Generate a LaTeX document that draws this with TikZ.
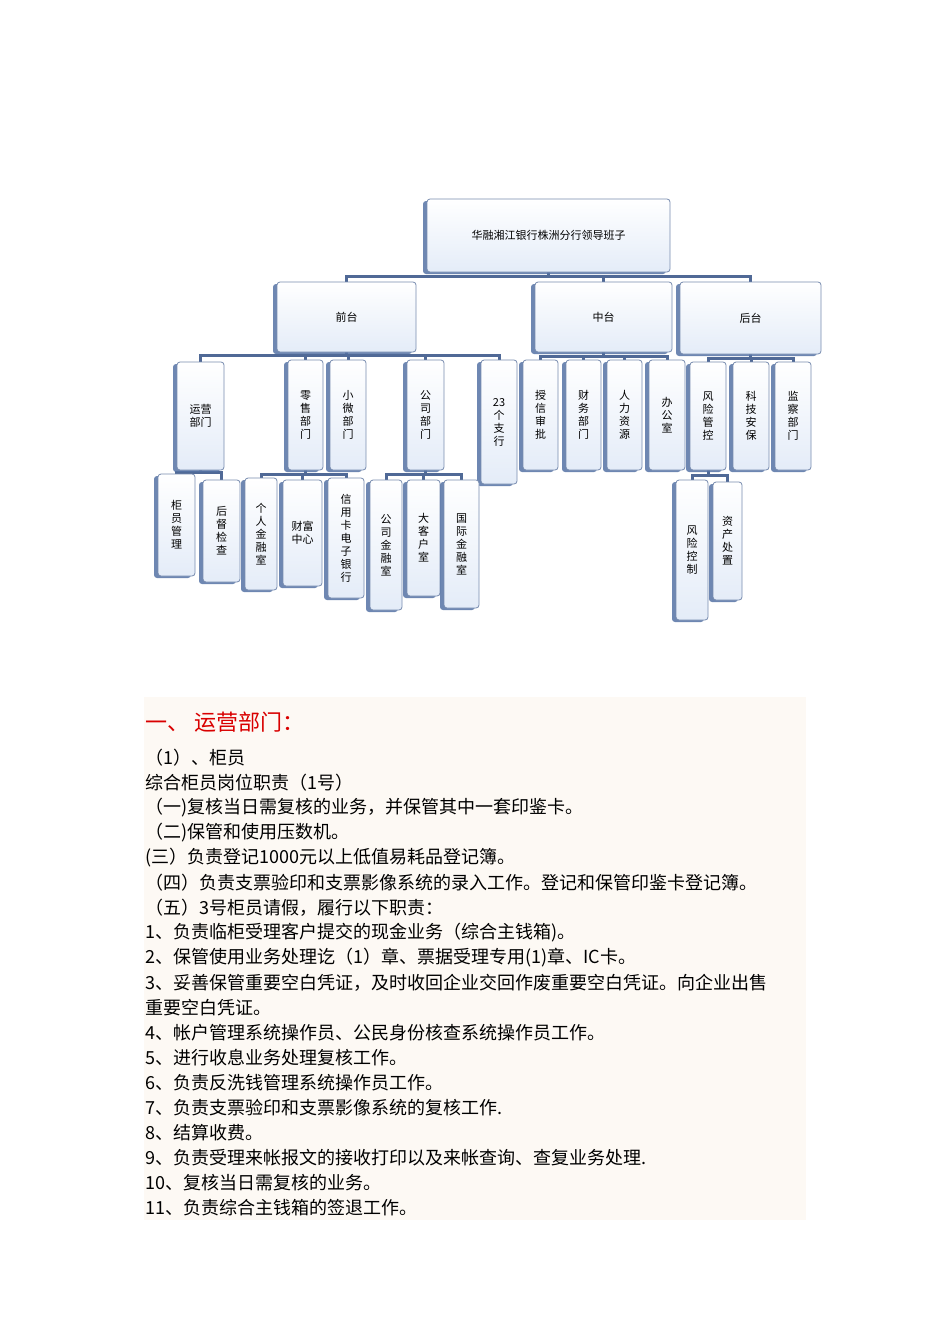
\documentclass[tikz,border=0pt]{standalone}
\usepackage{fontspec}
\setmainfont{Noto Sans CJK SC}
\usetikzlibrary{shadows,backgrounds}
\definecolor{bord}{RGB}{120,140,175}
\definecolor{shad}{RGB}{85,115,165}
\definecolor{lnk}{RGB}{80,105,150}
\definecolor{bfill}{RGB}{228,236,248}
\definecolor{cream}{RGB}{253,249,244}
\newcommand{\bx}[6]{\node[bx,minimum width={#4-#2},minimum height={#5-#3}] (#1) at ({(#2+#4)/2},{-(#3+#5)/2}) {#6};}
\tikzset{
 bx/.style={draw=bord,line width=0.8pt,rounded corners=3pt,top color=white,bottom color=bfill,
  align=center,inner sep=0pt,font=\fontsize{11}{13}\selectfont,
  drop shadow={shadow xshift=-4pt,shadow yshift=-2pt,fill=shad,opacity=0.85}},
 conn/.style={draw=lnk,line width=3pt},
 txt/.style={anchor=west,inner sep=0pt,font=\fontsize{18}{20}\selectfont},
}
\begin{document}
\begin{tikzpicture}[x=1pt,y=1pt]
\useasboundingbox (0,0) rectangle (950,-1344);
\bx{top}{427}{199}{670}{272}{华融湘江银行株洲分行领导班子}
\bx{qian}{277}{282}{416}{352}{前台}
\bx{zhong}{535}{282}{672}{352}{中台}
\bx{hou}{680}{282}{821}{354}{后台}
\bx{yy}{177}{362}{224}{470}{运营\\部门}
\bx{ls}{288}{360}{323}{470}{零\\售\\部\\门}
\bx{xw}{330}{360}{366}{470}{小\\微\\部\\门}
\bx{gs}{407}{360}{444}{470}{公\\司\\部\\门}
\bx{zh}{481}{360}{517}{484}{23\\个\\支\\行}
\bx{sx}{523}{360}{558}{470}{授\\信\\审\\批}
\bx{cw}{566}{360}{601}{470}{财\\务\\部\\门}
\bx{rl}{607}{360}{642}{470}{人\\力\\资\\源}
\bx{bg}{649}{360}{685}{470}{办\\公\\室}
\bx{fx}{690}{362}{726}{470}{风\\险\\管\\控}
\bx{kj}{733}{362}{769}{470}{科\\技\\安\\保}
\bx{jc}{775}{362}{811}{470}{监\\察\\部\\门}
\bx{gy}{158}{474}{195}{576}{柜\\员\\管\\理}
\bx{hd}{203}{480}{240}{582}{后\\督\\检\\查}
\bx{gr}{245}{478}{277}{590}{个\\人\\金\\融\\室}
\bx{cf}{283}{480}{322}{586}{财富\\中心}
\bx{xy}{328}{478}{364}{598}{信\\用\\卡\\电\\子\\银\\行}
\bx{gj}{370}{480}{402}{610}{公\\司\\金\\融\\室}
\bx{dk}{407}{480}{440}{596}{大\\客\\户\\室}
\bx{gjr}{444}{480}{479}{608}{国\\际\\金\\融\\室}
\bx{fk}{676}{480}{708}{620}{风\\险\\控\\制}
\bx{zc}{713}{482}{742}{600}{资\\产\\处\\置}
\begin{scope}[on background layer]
\fill[white] (0,0) rectangle (950,-1344);
\foreach \c in {qian,zhong,hou}{\draw[conn] (top.south) -- ++(0,-4) -| (\c.north);}
\foreach \c in {yy,ls,xw,gs,zh}{\draw[conn] (qian.south) -- ++(0,-3) -| (\c.north);}
\foreach \c in {sx,cw,rl,bg}{\draw[conn] (zhong.south) -- ++(0,-4) -| (\c.north);}
\foreach \c in {fx,kj,jc}{\draw[conn] (hou.south) -- ++(0,-4) -| (\c.north);}
\foreach \c in {gy,hd}{\draw[conn] (yy.south) -- ++(0,-2) -| (\c.north);}
\foreach \c in {gr,cf,xy}{\draw[conn] (ls.south) -- ++(0,-4) -| (\c.north);}
\foreach \c in {gj,dk,gjr}{\draw[conn] (gs.south) -- ++(0,-4) -| (\c.north);}
\foreach \c in {fk,zc}{\draw[conn] (fx.south) -- ++(0,-5) -| (\c.north);}
\end{scope}
% text block
\fill[cream] (144,-697) rectangle (806,-1220);
\node[txt,text=red!85!black,font=\fontsize{22}{24}\selectfont] (h) at (145,-722) {一、 运营部门：};
\node[txt] (l1) at (145,-758) {（1）、柜员};
\node[txt] (l2) at (145,-783) {综合柜员岗位职责（1号）};
\node[txt] (l3) at (145,-808) {（一)复核当日需复核的业务，并保管其中一套印鉴卡。};
\node[txt] (l4) at (145,-833) {（二)保管和使用压数机。};
\node[txt] (l5) at (145,-858) {(三）负责登记1000元以上低值易耗品登记簿。};
\node[txt] (l6) at (145,-883) {（四）负责支票验印和支票影像系统的录入工作。登记和保管印鉴卡登记簿。};
\node[txt] (l7) at (145,-908) {（五）3号柜员请假，履行以下职责：};
\node[txt] (l8) at (145,-933) {1、负责临柜受理客户提交的现金业务（综合主钱箱)。};
\node[txt] (l9) at (145,-958) {2、保管使用业务处理讫（1）章、票据受理专用(1)章、IC卡。};
\node[txt] (l10) at (145,-983) {3、妥善保管重要空白凭证，及时收回企业交回作废重要空白凭证。向企业出售};
\node[txt] (l11) at (145,-1008) {重要空白凭证。};
\node[txt] (l12) at (145,-1033) {4、帐户管理系统操作员、公民身份核查系统操作员工作。};
\node[txt] (l13) at (145,-1058) {5、进行收息业务处理复核工作。};
\node[txt] (l14) at (145,-1083) {6、负责反洗钱管理系统操作员工作。};
\node[txt] (l15) at (145,-1108) {7、负责支票验印和支票影像系统的复核工作.};
\node[txt] (l16) at (145,-1133) {8、结算收费。};
\node[txt] (l17) at (145,-1158) {9、负责受理来帐报文的接收打印以及来帐查询、查复业务处理.};
\node[txt] (l18) at (145,-1183) {10、复核当日需复核的业务。};
\node[txt] (l19) at (145,-1208) {11、负责综合主钱箱的签退工作。};
\end{tikzpicture}
\end{document}
